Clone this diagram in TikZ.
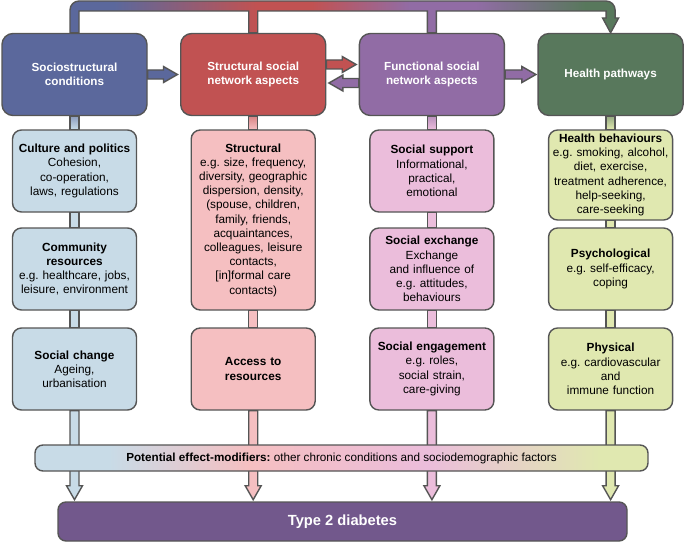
\documentclass[tikz,border=0pt]{standalone}
\usepackage{fontspec}
\setmainfont{Liberation Sans}
\usetikzlibrary{calc}
\frenchspacing
\definecolor{socblue}{RGB}{91,104,156}
\definecolor{strred}{RGB}{193,82,82}
\definecolor{funcpurple}{RGB}{145,108,165}
\definecolor{healthgreen}{RGB}{88,120,92}
\definecolor{lblue}{RGB}{200,219,231}
\definecolor{lpink}{RGB}{245,191,193}
\definecolor{lmauve}{RGB}{235,189,219}
\definecolor{lgreen}{RGB}{224,232,176}
\definecolor{t2dpurple}{RGB}{114,88,140}
\definecolor{edgegray}{RGB}{85,85,85}
\pgfdeclarehorizontalshading{topbar}{100bp}{color(0bp)=(socblue); color(29bp)=(socblue); color(42bp)=(strred); color(47bp)=(strred); color(56bp)=(funcpurple); color(62bp)=(funcpurple); color(72bp)=(healthgreen); color(100bp)=(healthgreen)}
\pgfdeclarehorizontalshading{modgrad}{100bp}{color(0bp)=(lblue); color(31bp)=(lblue); color(42.5bp)=(lpink); color(57bp)=(lmauve); color(71bp)=(lgreen); color(100bp)=(lgreen)}
\begin{document}
\begin{tikzpicture}[x=1pt,y=1pt,node distance=178.7pt,
  topbox/.style={draw=edgegray,line width=1.4pt,rounded corners=11pt,minimum width=145pt,minimum height=82pt,inner sep=0pt,align=center,text=white,font=\fontsize{11.7}{14}\selectfont\bfseries},
  subbox/.style={draw=edgegray,line width=1.4pt,rounded corners=9pt,text width=122pt,inner xsep=1pt,inner ysep=0pt,minimum height=82pt,align=center,font=\fontsize{11.8}{14.2}\selectfont},
  barrow/.style={draw=edgegray,line width=1.4pt,to path={
    ($(\tikztostart)!4.5pt!90:(\tikztotarget)$)
    -- ($($(\tikztotarget)!14pt!(\tikztostart)$)!4.5pt!-90:(\tikztostart)$)
    -- ($($(\tikztotarget)!14pt!(\tikztostart)$)!8pt!-90:(\tikztostart)$)
    -- (\tikztotarget)
    -- ($($(\tikztotarget)!14pt!(\tikztostart)$)!8pt!90:(\tikztostart)$)
    -- ($($(\tikztotarget)!14pt!(\tikztostart)$)!4.5pt!90:(\tikztostart)$)
    -- ($(\tikztostart)!4.5pt!-90:(\tikztotarget)$) -- cycle}},
  stem/.style={draw=edgegray,line width=1.4pt,to path={($(\tikztostart)+(-4.5pt,0)$) rectangle ($(\tikztotarget)+(4.5pt,0)$)}}]
\useasboundingbox (0,0) rectangle (685,-543);

\node (soc) [topbox,fill=socblue] at (74.5,-74.5) {Sociostructural\\conditions};
\node (struc) [topbox,fill=strred,right of=soc] {Structural social\\network aspects};
\node (func) [topbox,fill=funcpurple,right of=struc] {Functional social\\network aspects};
\node (health) [topbox,fill=healthgreen,right of=func] {Health pathways};

\node (cult) [subbox,fill=lblue,node distance=96.5pt,below of=soc] {\textbf{Culture and politics}\\Cohesion,\\co-operation,\\laws, regulations};
\node (comm) [subbox,fill=lblue,node distance=98pt,below of=cult] {\textbf{Community}\\\textbf{resources}\\e.g. healthcare, jobs,\\leisure, environment};
\node (chg) [subbox,fill=lblue,node distance=100pt,below of=comm] {\textbf{Social change}\\Ageing,\\urbanisation};

\node (struct) [subbox,fill=lpink,minimum height=180pt,node distance=145.5pt,below of=struc] {\textbf{Structural}\\e.g. size, frequency,\\diversity, geographic\\dispersion, density,\\(spouse, children,\\family, friends,\\acquaintances,\\colleagues, leisure\\contacts,\\{[in]}formal care\\contacts)};
\node (access) [subbox,fill=lpink,node distance=149pt,below of=struct] {\textbf{Access to}\\\textbf{resources}};

\node (supp) [subbox,fill=lmauve,node distance=96.5pt,below of=func] {\textbf{Social support}\\Informational,\\practical,\\emotional};
\node (exch) [subbox,fill=lmauve,node distance=98pt,below of=supp] {\textbf{Social exchange}\\Exchange\\and influence of\\e.g. attitudes,\\behaviours};
\node (eng) [subbox,fill=lmauve,node distance=100pt,below of=exch] {\textbf{Social engagement}\\e.g. roles,\\social strain,\\care-giving};

\node (behav) [subbox,fill=lgreen,minimum height=90pt,node distance=100.5pt,below of=health] {\textbf{Health behaviours}\\e.g. smoking, alcohol,\\diet, exercise,\\treatment adherence,\\help-seeking,\\care-seeking};
\node (psych) [subbox,fill=lgreen,node distance=94pt,below of=behav] {\textbf{Psychological}\\e.g. self-efficacy,\\coping};
\node (phys) [subbox,fill=lgreen,node distance=100pt,below of=psych] {\textbf{Physical}\\e.g. cardiovascular\\and\\immune function};

\coordinate (bartop) at (0,-1);
\coordinate (barbot) at (0,-11);
\coordinate (headbase) at (0,-18);
\shadedraw[shading=topbar,draw=edgegray,line width=1.4pt]
  ([xshift=-4.5pt]soc.north) -- ([xshift=-4.5pt]soc.north |- 0,-10) arc[start angle=180,end angle=90,radius=9pt]
  -- ([xshift=-4.5pt]health.north |- bartop) arc[start angle=90,end angle=0,radius=9pt]
  -- ([xshift=4.5pt]health.north |- headbase) -- ([xshift=8pt]health.north |- headbase) -- (health.north)
  -- ([xshift=-8pt]health.north |- headbase) -- ([xshift=-4.5pt]health.north |- headbase)
  -- ([xshift=-4.5pt]health.north |- barbot) -- ([xshift=4.5pt]func.north |- barbot)
  -- ([xshift=4.5pt]func.north) -- ([xshift=-4.5pt]func.north) -- ([xshift=-4.5pt]func.north |- barbot)
  -- ([xshift=4.5pt]struc.north |- barbot) -- ([xshift=4.5pt]struc.north) -- ([xshift=-4.5pt]struc.north) -- ([xshift=-4.5pt]struc.north |- barbot)
  -- ([xshift=4.5pt]soc.north |- barbot) -- ([xshift=4.5pt]soc.north) -- cycle;

\draw[barrow,fill=socblue] (soc.east) to ([xshift=-2.5pt]struc.west);
\draw[barrow,fill=strred] ([yshift=10pt]struc.east) to ([yshift=10pt,xshift=-2.5pt]func.west);
\draw[barrow,fill=funcpurple] ([yshift=-8.5pt]func.west) to ([yshift=-8.5pt,xshift=2.5pt]struc.east);
\draw[barrow,fill=funcpurple] (func.east) to ([xshift=-1.5pt]health.west);

\draw[stem,top color=socblue!55!lblue,bottom color=lblue] (soc.south) to (cult.north);
\draw[stem,fill=lblue] (cult.south) to (comm.north);
\draw[stem,fill=lblue] (comm.south) to (chg.north);
\draw[stem,top color=strred!55!lpink,bottom color=lpink] (struc.south) to (struct.north);
\draw[stem,fill=lpink] (struct.south) to (access.north);
\draw[stem,top color=funcpurple!55!lmauve,bottom color=lmauve] (func.south) to (supp.north);
\draw[stem,fill=lmauve] (supp.south) to (exch.north);
\draw[stem,fill=lmauve] (exch.south) to (eng.north);
\draw[stem,top color=healthgreen!55!lgreen,bottom color=lgreen] (health.south) to (behav.north);
\draw[stem,fill=lgreen] (behav.south) to (psych.north);
\draw[stem,fill=lgreen] (psych.south) to (phys.north);

\draw[barrow,fill=lblue] (chg.south) to ([yshift=-89pt]chg.south);
\draw[barrow,fill=lpink] (access.south) to ([yshift=-89pt]access.south);
\draw[barrow,fill=lmauve] (eng.south) to ([yshift=-89pt]eng.south);
\draw[barrow,fill=lgreen] (phys.south) to ([yshift=-89pt]phys.south);

\node (mod) [draw=edgegray,line width=1.4pt,rounded corners=8pt,shading=modgrad,minimum width=613pt,minimum height=26pt,inner sep=0pt,font=\fontsize{11.7}{14}\selectfont] at (341.5,-458) {\textbf{Potential effect-modifiers:} other chronic conditions and sociodemographic factors};
\node (t2d) [draw=edgegray,line width=1.4pt,rounded corners=8pt,fill=t2dpurple,text=white,minimum width=569pt,minimum height=39pt,inner sep=0pt,font=\fontsize{14.7}{17}\selectfont\bfseries] at (342.5,-521.5) {Type 2 diabetes};
\end{tikzpicture}
\end{document}
